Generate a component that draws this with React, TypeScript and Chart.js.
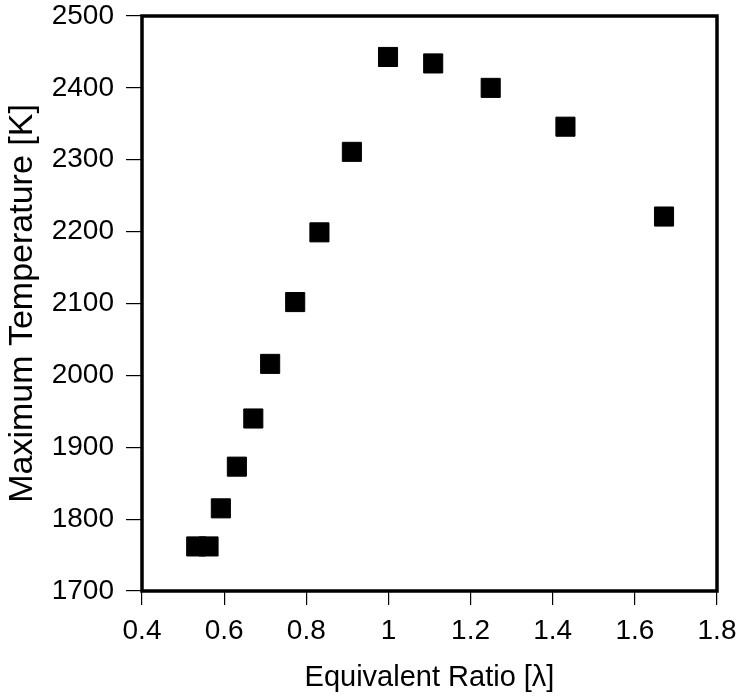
import React, { useEffect, useRef } from "react";
import { Chart, registerables } from "chart.js";

Chart.register(...registerables);

const equivalentRatio = [0.532, 0.562, 0.592, 0.631, 0.671, 0.712, 0.773, 0.832, 0.911, 0.999, 1.109, 1.249, 1.431, 1.671];
const maxTemperature = [1762, 1762, 1815, 1873, 1940, 2016, 2102, 2199, 2311, 2443, 2434, 2400, 2346, 2221];
const xTickLabels = ["0.4", "0.6", "0.8", "1", "1.2", "1.4", "1.6", "1.8"];
const yTickLabels = ["1700", "1800", "1900", "2000", "2100", "2200", "2300", "2400", "2500"];

const FONT = "'Liberation Sans', Arial, Helvetica, sans-serif";

const framePlugin = {
  id: "frame",
  afterDatasetsDraw(chart: any) {
    const { ctx, chartArea } = chart;
    ctx.save();
    ctx.strokeStyle = "#000";
    ctx.lineWidth = 3.5;
    ctx.strokeRect(chartArea.left, chartArea.top, chartArea.right - chartArea.left, chartArea.bottom - chartArea.top);
    ctx.restore();
  },
};

export default function App() {
  const ref = useRef<HTMLCanvasElement | null>(null);
  useEffect(() => {
    if (!ref.current) return;
    const chart = new Chart(ref.current, {
      type: "scatter",
      data: {
        datasets: [
          {
            data: equivalentRatio.map((x, i) => ({ x, y: maxTemperature[i] })),
            pointStyle: "rect",
            pointRadius: 13.5,
            pointHoverRadius: 13.5,
            backgroundColor: "#000",
            borderColor: "#000",
            borderWidth: 1,
          },
        ],
      },
      plugins: [framePlugin],
      options: {
        animation: false,
        responsive: false,
        events: [],
        layout: { padding: { top: 16, right: 25, left: 0, bottom: 0 } },
        plugins: { legend: { display: false }, tooltip: { enabled: false } },
        scales: {
          x: {
            type: "linear",
            min: 0.4,
            max: 1.8,
            afterFit: (s: any) => {
              s.height = 109;
              s.paddingLeft = 0;
              s.paddingRight = 0;
            },
            ticks: {
              stepSize: 0.2,
              color: "#000",
              padding: 9,
              font: { family: FONT, size: 28 },
              callback: (_v: any, i: number) => xTickLabels[i],
            },
            grid: { drawOnChartArea: false, drawTicks: true, tickLength: 14, color: "#000", lineWidth: 1.2 },
            border: { display: false },
            title: {
              display: true,
              text: "Equivalent Ratio [λ]",
              color: "#000",
              font: { family: FONT, size: 29 },
              padding: { top: 0, bottom: 5 },
            },
          },
          y: {
            type: "linear",
            min: 1700,
            max: 2500,
            afterFit: (s: any) => {
              s.width = 142;
              s.paddingTop = 0;
              s.paddingBottom = 0;
            },
            ticks: {
              stepSize: 100,
              color: "#000",
              padding: 12,
              font: { family: FONT, size: 28 },
              callback: (_v: any, i: number) => yTickLabels[i],
            },
            grid: { drawOnChartArea: false, drawTicks: true, tickLength: 16, color: "#000", lineWidth: 1.2 },
            border: { display: false },
            title: {
              display: true,
              text: "Maximum Temperature [K]",
              color: "#000",
              font: { family: FONT, size: 34 },
              padding: { top: 2, bottom: 0 },
            },
          },
        },
      },
    });
    return () => chart.destroy();
  }, []);
  return (
    <div style={{ position: "fixed", left: 0, top: 0, width: 742, height: 700, background: "#fff" }}>
      <canvas ref={ref} width={742} height={700} style={{ display: "block" }} />
    </div>
  );
}
